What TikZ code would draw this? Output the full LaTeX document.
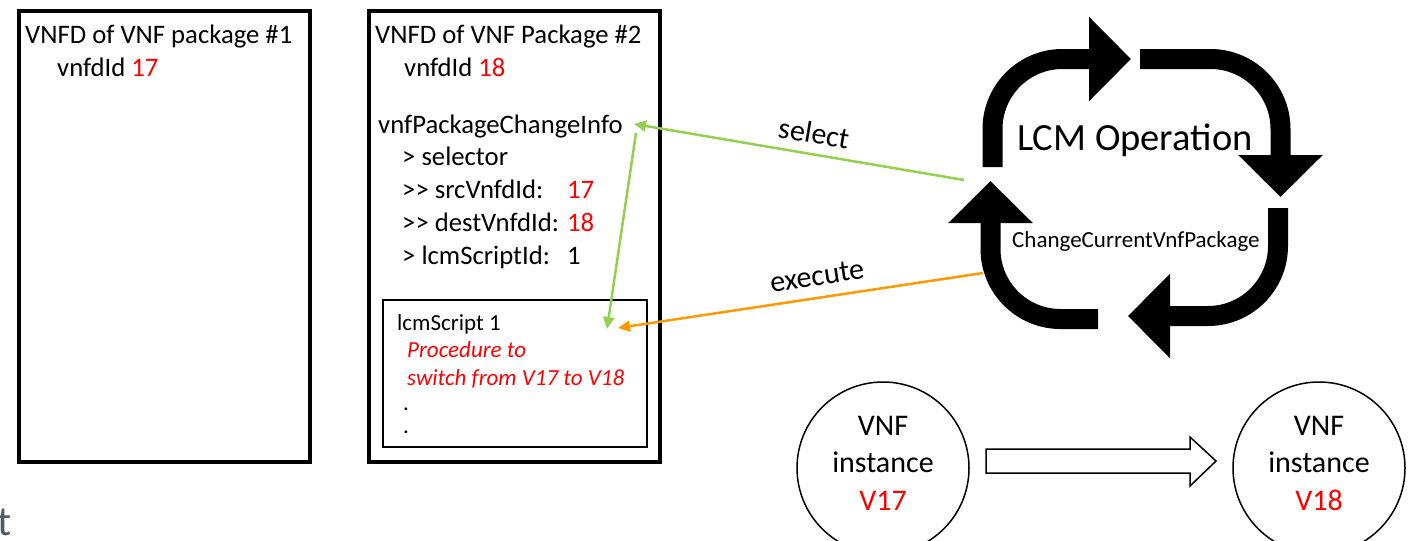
\documentclass[tikz,border=0pt]{standalone}
\usepackage{fontspec}
\setmainfont{Carlito}
\usetikzlibrary{arrows.meta}
\definecolor{vred}{RGB}{255,0,0}
\definecolor{selgreen}{RGB}{146,208,80}
\definecolor{exorange}{RGB}{255,153,0}
\definecolor{strayg}{RGB}{80,90,100}
\newcommand\fmain{\fontsize{26.7}{32}\selectfont}
\newcommand\fsmall{\fontsize{23}{28}\selectfont}
\newcommand\flabel{\fontsize{30}{36}\selectfont}
\newcommand\fbig{\fontsize{38.5}{46}\selectfont}
\begin{document}
\begin{tikzpicture}[x=1pt,y=-1pt,
  pkgbox/.style={draw, line width=3.5pt, minimum width=291pt, minimum height=451pt, inner sep=0pt},
  scriptbox/.style={draw, line width=1.5pt, minimum width=264pt, minimum height=147pt, inner sep=0pt},
  txt/.style={anchor=base west, inner sep=0pt, font=\fmain},
  stxt/.style={anchor=base west, inner sep=0pt, font=\fsmall},
  rtxt/.style={anchor=base west, inner sep=0pt, font=\fsmall\itshape, text=vred},
  ctxt/.style={anchor=base, inner sep=0pt, font=\flabel},
  inst/.style={draw, circle, line width=1.5pt, minimum size=172pt, inner sep=0pt},
  cyc/.style={line width=20pt, rounded corners=70pt, -{Triangle[length=42pt,width=82pt]}},
  selarrow/.style={draw=selgreen, line width=2.5pt, -{Triangle[length=12pt,width=11pt]}},
  exarrow/.style={draw=exorange, line width=2.5pt, -{Triangle[length=12pt,width=11pt]}},
  lbl/.style={inner sep=0pt, font=\flabel}
]
\useasboundingbox (0,0) rectangle (1409,541);

% package boxes
\node[pkgbox] (box1) at (164.5,236.5) {};
\node[pkgbox] (box2) at (514.5,236.5) {};
\node[scriptbox] (script) at (515,373.5) {};

% box 1 text
\node[txt] (t1) at (25,43) {VNFD of VNF package \#1};
\node[txt] (t2) at (57,76) {vnfdId \textcolor{vred}{17}};

% box 2 text
\node[txt] (t3) at (375,43) {VNFD of VNF Package \#2};
\node[txt] (t4) at (404,76) {vnfdId \textcolor{vred}{18}};
\node[txt] (pci) at (378,133) {vnfPackageChangeInfo};
\node[txt] (sel) at (402,165) {> selector};
\node[txt] (src) at (402,198) {>{}> srcVnfdId:};
\node[txt, text=vred] (srcv) at (567,198) {17};
\node[txt] (dst) at (402,231) {>{}> destVnfdId:};
\node[txt, text=vred] (dstv) at (567,231) {18};
\node[txt] (lid) at (402,264) {> lcmScriptId:};
\node[txt] (lidv) at (567,264) {1};

% script box text
\node[stxt] (s1) at (397,330) {lcmScript 1};
\node[rtxt] (s2) at (407,357) {Procedure to};
\node[rtxt] (s3) at (407,385) {switch from V17 to V18};
\node[stxt] (s4) at (403,410) {.};
\node[stxt] (s5) at (403,433) {.};

% LCM cycle
\draw[cyc] (992.5,167) -- (992.5,59) -- (1131,59);
\draw[cyc] (1140,59) -- (1280.5,59) -- (1280.5,197);
\draw[cyc] (1278,208) -- (1278,316) -- (1128,316);
\draw[cyc] (1098,319) -- (990.5,319) -- (990.5,181);
\node[anchor=base west, inner sep=0pt, font=\fbig] (lcm) at (1017,150) {LCM Operation};
\node[anchor=base west, inner sep=0pt, font=\fsmall] (ccvp) at (1012,247) {ChangeCurrentVnfPackage};

% connectors
\coordinate (selS) at (964,180);
\coordinate (selE) at (634,124);
\coordinate (downS) at (636,133);
\coordinate (downE) at (607,329);
\coordinate (exS) at (983,273);
\coordinate (exE) at (618,328);
\draw[selarrow] (selS) -- (selE);
\draw[selarrow] (downS) -- (downE);
\draw[exarrow] (exS) -- (exE);
\node[lbl, rotate=-9.6] (sellbl) at (814,133) {select};
\node[lbl, rotate=8.5] (exlbl) at (817,276) {execute};

% VNF instances
\node[inst] (v17) at (883,468) {};
\node[inst] (v18) at (1319,468) {};
\node[ctxt] (v17a) at (883,435) {VNF};
\node[ctxt] (v17b) at (883,472) {instance};
\node[ctxt, text=vred] (v17c) at (883,510) {V17};
\node[ctxt] (v18a) at (1319,435) {VNF};
\node[ctxt] (v18b) at (1319,472) {instance};
\node[ctxt, text=vred] (v18c) at (1319,510) {V18};

% hollow arrow
\draw[line width=1.5pt, line join=miter] (986,449) -- (1190,449) -- (1190,437) -- (1216,461) -- (1190,486) -- (1190,473) -- (986,473) -- cycle;

% stray glyph at bottom-left
\node[anchor=base west, inner sep=0pt, font=\fontsize{42}{50}\selectfont, text=strayg] (stray) at (-3,535) {t};
\end{tikzpicture}
\end{document}
